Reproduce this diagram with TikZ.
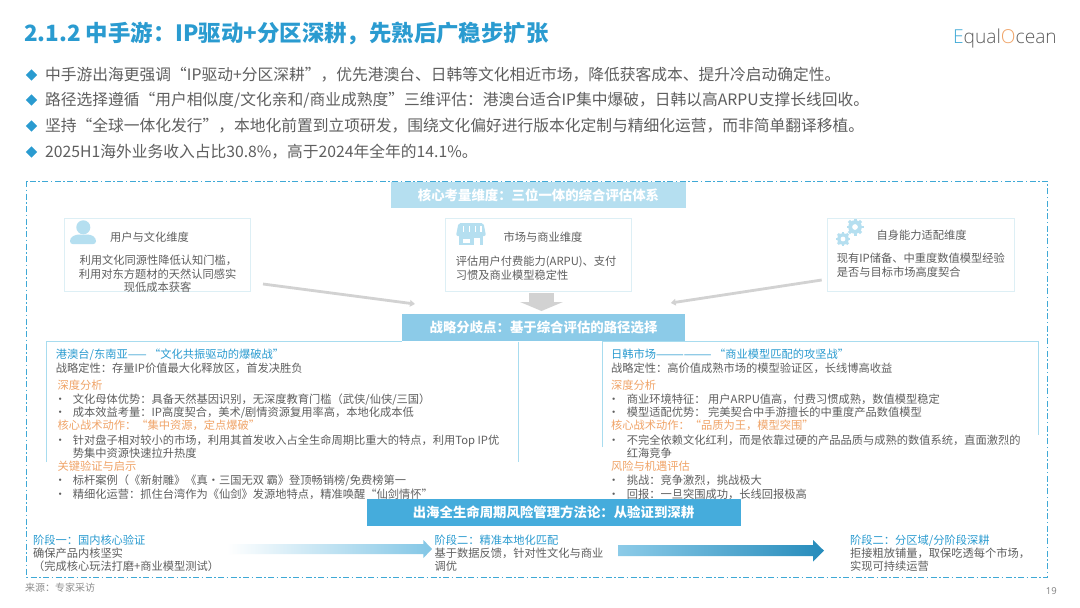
\documentclass[tikz,border=0pt]{standalone}
\usepackage{fontspec}
\setmainfont{Noto Sans CJK SC}
\newfontfamily\logofont{Open Sans Light}
\newfontfamily\pagefont{Open Sans}
\usetikzlibrary{arrows.meta,shapes.geometric}
\definecolor{blueT}{HTML}{2A9BD0}
\definecolor{grayT}{HTML}{5F5F5F}
\definecolor{orangeT}{HTML}{F0A468}
\definecolor{banA}{HTML}{B5DFF0}
\definecolor{banB}{HTML}{8CCBE8}
\definecolor{banC}{HTML}{45ACDC}
\definecolor{iconC}{HTML}{B5DFF0}
\definecolor{thinB}{HTML}{DDEFF5}
\definecolor{panelB}{HTML}{A8DCEF}
\definecolor{frameC}{HTML}{3FA9D6}
\definecolor{arrG}{HTML}{D2D2D2}
\tikzset{
  x=1pt,y=-1pt,
  txt/.style={anchor=west,inner sep=0pt,text height=9.6pt,text depth=1.2pt,font=\fontsize{11.25}{13}\selectfont,text=grayT},
  head/.style={txt,text=blueT},
  sect/.style={txt,text=orangeT},
  lead/.style={txt,text height=13pt,text depth=1.4pt,font=\fontsize{15.75}{18}\selectfont,text=grayT},
  leadmark/.style={diamond,fill=blueT,inner sep=0pt,minimum width=11.5pt,minimum height=11.5pt},
  banner/.style={inner sep=0pt,text=white,font=\fontsize{13.4}{16}\selectfont\bfseries},
  card/.style={draw=thinB,line width=.8pt,fill=white,inner sep=0pt},
  flow/.style={draw=arrG,line width=2.8pt,-{Triangle[width=6.5pt,length=5pt]}},
}
\newcommand{\gearicon}[3]{%
  \foreach \a in {0,45,...,315}{\fill[iconC,rotate around={\a:(#1,#2)}] (#1-0.22*#3,#2-1.25*#3) rectangle (#1+0.22*#3,#2);}
  \fill[iconC,even odd rule] (#1,#2) circle[radius=#3] (#1,#2) circle[radius=0.42*#3];
  \fill[white] (#1,#2) circle[radius=0.42*#3];}
\begin{document}
\begin{tikzpicture}
\useasboundingbox[fill=white] (0,0) rectangle (1080,608);
% title and logo
\node[anchor=west,inner sep=0pt,text=blueT,font=\fontsize{22.4}{26}\selectfont\bfseries] (title) at (24,33) {2.1.2 中手游：IP驱动+分区深耕，先熟后广稳步扩张};
\node[anchor=east,inner sep=0pt,text=grayT,font=\fontsize{19.2}{24}\logofont] (logo) at (1057,39) {{\color{frameC}E}qual{\color{orangeT}O}cean};
% lead bullets
\node[leadmark] (d1) at (31.5,75) {};
\node[leadmark] (d2) at (31.5,100) {};
\node[leadmark] (d3) at (31.5,126) {};
\node[leadmark] (d4) at (31.5,152) {};
\node[lead] (b1) at (45,75) {中手游出海更强调“IP驱动+分区深耕”，优先港澳台、日韩等文化相近市场，降低获客成本、提升冷启动确定性。};
\node[lead] (b2) at (45,100) {路径选择遵循“用户相似度/文化亲和/商业成熟度”三维评估：港澳台适合IP集中爆破，日韩以高ARPU支撑长线回收。};
\node[lead] (b3) at (45,126) {坚持“全球一体化发行”，本地化前置到立项研发，围绕文化偏好进行版本化定制与精细化运营，而非简单翻译移植。};
\node[lead] (b4) at (45,152) {2025H1海外业务收入占比30.8\%，高于2024年全年的14.1\%。};
% frame
\draw[frameC,line width=1pt,dash pattern=on 6pt off 2.5pt on 1.5pt off 2.5pt] (26.5,181) rectangle (1047.5,577);
% top banner
\node[banner,fill=banA,minimum width=295pt,minimum height=26pt] (ban1) at (538.5,195) {核心考量维度：三位一体的综合评估体系};
% cards
\node[card,minimum width=186.5pt,minimum height=73.7pt] (card1) at (157.5,254.8) {};
\node[card,minimum width=186pt,minimum height=73.7pt] (card2) at (538.7,254.8) {};
\node[card,minimum width=187.7pt,minimum height=73.7pt] (card3) at (920.8,254.8) {};
% person icon
\fill[iconC] (83.3,227.3) circle[radius=7pt];
\fill[iconC,rounded corners=3pt] (70,244.2) -- (70,238) -- (76,234.5) -- (90.5,234.5) -- (96,238) -- (96,244.2) -- cycle;
% store icon
\fill[iconC,rounded corners=2pt] (458.5,223) -- (483.5,223) -- (486,236) -- (456,236) -- cycle;
\foreach \sx in {463.5,469.5,475.5,481}{\draw[white,line width=1.3pt] (\sx,226) -- (\sx,232);}
\fill[iconC] (459,236) rectangle (483,245);
\fill[white] (463,238.5) rectangle (470,242.5);
\fill[white] (474,238) rectangle (479.5,245);
% gears
\gearicon{855}{227}{6.8}
\gearicon{843}{239}{5.8}
\node[txt,anchor=center] (h1) at (149.5,237) {用户与文化维度};
\node[txt] (c1a) at (79.3,260.7) {利用文化同源性降低认知门槛，};
\node[txt,anchor=center] (c1b) at (157.5,274.3) {利用对东方题材的天然认同感实};
\node[txt,anchor=center] (c1c) at (157.5,287.7) {现低成本获客};
\node[txt,anchor=center] (h2) at (543,237) {市场与商业维度};
\node[txt] (c2a) at (455.7,261.7) {评估用户付费能力(ARPU)、支付};
\node[txt] (c2b) at (455.7,275) {习惯及商业模型稳定性};
\node[txt,anchor=center] (h3) at (921.5,235.7) {自身能力适配维度};
\node[txt] (c3a) at (836.7,258.3) {现有IP储备、中重度数值模型经验};
\node[txt] (c3b) at (836.7,272.3) {是否与目标市场高度契合};
% strategy banner
\node[banner,fill=banB,minimum width=283.5pt,minimum height=26.7pt] (ban2) at (543.5,327.4) {战略分歧点：基于综合评估的路径选择};
% gray connectors
\coordinate (f1s) at (263,284);
\coordinate (f1e) at (415,304);
\coordinate (f2s) at (821.7,280);
\coordinate (f2e) at (670.7,303);
\coordinate (f3s) at (541.5,293);
\coordinate (f3e) at (541.5,311);
\draw[flow] (f1s) -- (f1e);
\draw[flow] (f2s) -- (f2e);
\draw[draw=arrG,line width=24.5pt,-{Triangle[width=42.5pt,length=9pt]}] (f3s) -- (f3e);
% panels (open at the bottom)
\draw[panelB,line width=1pt] (46.7,462) -- (46.7,341.7) -- (401.7,341.7);
\draw[panelB,line width=1pt] (518,341.7) -- (518,462);
\draw[panelB,line width=1pt] (602,447) -- (602,341.7) -- (1038,341.7) -- (1038,435);
% left panel
\node[head] (l1) at (55.7,354.3) {港澳台/东南亚—— “文化共振驱动的爆破战”};
\node[txt] (l2) at (55.7,368) {战略定性：存量IP价值最大化释放区，首发决胜负};
\node[sect] (l3) at (57.5,385.7) {深度分析};
\node[txt] (lb1) at (54.5,399) {•};
\node[txt] (l4) at (72.7,399) {文化母体优势：具备天然基因识别，无深度教育门槛（武侠/仙侠/三国）};
\node[txt] (lb2) at (54.5,412.3) {•};
\node[txt] (l5) at (72.7,412.3) {成本效益考量：IP高度契合，美术/剧情资源复用率高，本地化成本低};
\node[sect] (l6) at (57.5,425.7) {核心战术动作：“集中资源，定点爆破”};
\node[txt] (lb3) at (54.5,440) {•};
\node[txt] (l7) at (72.7,440) {针对盘子相对较小的市场，利用其首发收入占全生命周期比重大的特点，利用Top IP优};
\node[txt] (l8) at (72.7,453.3) {势集中资源快速拉升热度};
\node[sect] (l9) at (57.5,466.7) {关键验证与启示};
\node[txt] (lb4) at (54.5,480) {•};
\node[txt] (l10) at (72.7,480) {标杆案例（《新射雕》《真·三国无双 霸》登顶畅销榜/免费榜第一};
\node[txt] (lb5) at (54.5,494) {•};
\node[txt] (l11) at (72.7,494) {精细化运营：抓住台湾作为《仙剑》发源地特点，精准唤醒“仙剑情怀”};
% right panel
\node[head] (r1) at (611,354.3) {日韩市场—————— “商业模型匹配的攻坚战”};
\node[txt] (r2) at (611,368) {战略定性：高价值成熟市场的模型验证区，长线博高收益};
\node[sect] (r3) at (611,385.7) {深度分析};
\node[txt] (rb1) at (608,399) {•};
\node[txt] (r4) at (626.7,399) {商业环境特征： 用户ARPU值高，付费习惯成熟，数值模型稳定};
\node[txt] (rb2) at (608,412.3) {•};
\node[txt] (r5) at (626.7,412.3) {模型适配优势： 完美契合中手游擅长的中重度产品数值模型};
\node[sect] (r6) at (611,425.7) {核心战术动作：“品质为王，模型突围”};
\node[txt] (rb3) at (608,440) {•};
\node[txt] (r7) at (626.7,440) {不完全依赖文化红利，而是依靠过硬的产品品质与成熟的数值系统，直面激烈的};
\node[txt] (r8) at (626.7,453.3) {红海竞争};
\node[sect] (r9) at (611,466.7) {风险与机遇评估};
\node[txt] (rb4) at (608,480) {•};
\node[txt] (r10) at (626.7,480) {挑战：竞争激烈，挑战极大};
\node[txt] (rb5) at (608,494) {•};
\node[txt] (r11) at (626.7,494) {回报：一旦突围成功，长线回报极高};
% lifecycle banner
\node[banner,fill=banC,minimum width=374pt,minimum height=27pt] (ban3) at (553.5,512.8) {出海全生命周期风险管理方法论：从验证到深耕};
% phases
\node[head] (p1a) at (32.8,540) {阶段一：国内核心验证};
\node[txt] (p1b) at (32.8,553) {确保产品内核坚实};
\node[txt] (p1c) at (32.8,566.7) {（完成核心玩法打磨+商业模型测试）};
\node[head] (p2a) at (434.5,540) {阶段二：精准本地化匹配};
\node[txt] (p2b) at (434.5,553) {基于数据反馈，针对性文化与商业};
\node[txt] (p2c) at (434.5,566.7) {调优};
\node[head] (p3a) at (850,540) {阶段二：分区域/分阶段深耕};
\node[txt] (p3b) at (850,553) {拒接粗放铺量，取保吃透每个市场，};
\node[txt] (p3c) at (850,566.7) {实现可持续运营};
% gradient arrows
\shade[left color=white,right color=banB!90!blueT,shading angle=90] (227,544) -- (423.4,544) -- (423.4,540) -- (432,549) -- (423.4,558) -- (423.4,554) -- (227,554) -- cycle;
\shade[left color=banB,right color=blueT!90!black,shading angle=90] (618,545) -- (813,545) -- (813,540) -- (824,550.7) -- (813,561.5) -- (813,556) -- (618,556) -- cycle;
% footer
\node[anchor=west,inner sep=0pt,text=grayT!70,font=\fontsize{10}{12}\selectfont] (src) at (25,588) {来源：专家采访};
\node[anchor=east,inner sep=0pt,text=grayT!80,font=\fontsize{9.5}{12}\pagefont] (pg) at (1057,591) {19};
\end{tikzpicture}
\end{document}
